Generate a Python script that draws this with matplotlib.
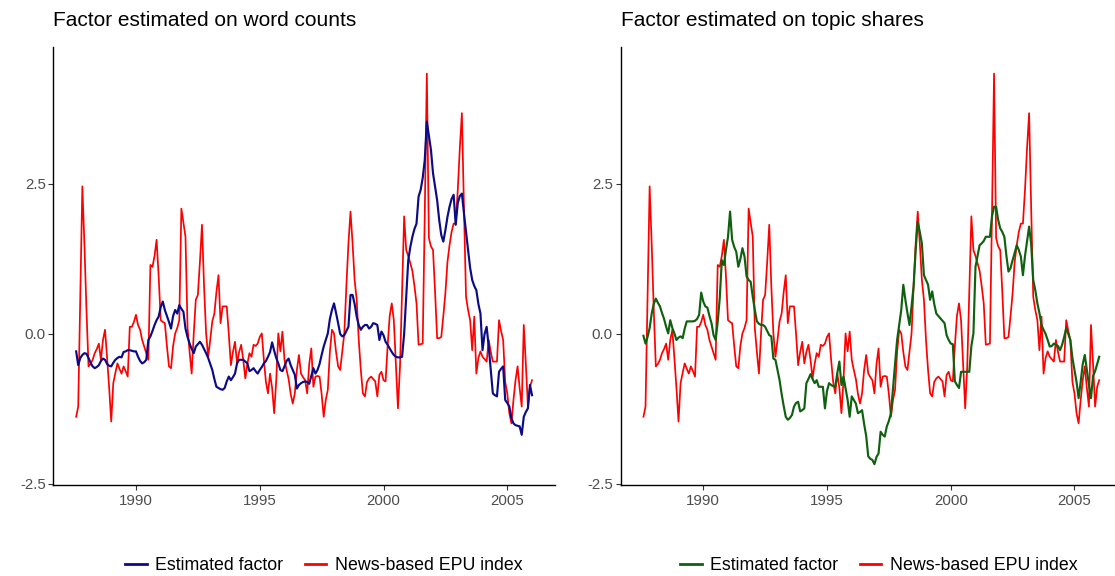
import numpy as np
import matplotlib
matplotlib.use("Agg")
import matplotlib.pyplot as plt
from matplotlib.lines import Line2D

# ---------------- data (monthly, Aug 1987 - Jan 2006) ----------------
start_year = 1987
start_month = 8

epu_index = [
    -1.38, -1.21, 0.6, 2.46, 1.5, 0.4, -0.54, -0.5, -0.43, -0.32,
    -0.25, -0.16, -0.43, -0.1, 0.07, -0.4, -0.9, -1.46, -0.82, -0.65,
    -0.49, -0.58, -0.66, -0.54, -0.62, -0.71, 0.12, 0.12, 0.2, 0.32,
    0.15, 0.07, -0.1, -0.21, -0.32, -0.43, 1.15, 1.12, 1.3, 1.57,
    0.96, 0.23, 0.2, 0.18, -0.2, -0.54, -0.57, -0.2, 0.01, 0.1,
    0.23, 2.09, 1.85, 1.62, 0.1, -0.3, -0.66, 0.0, 0.57, 0.65,
    1.2, 1.82, 0.8, 0.01, -0.38, -0.1, 0.21, 0.34, 0.7, 0.98,
    0.18, 0.46, 0.46, 0.46, 0.0, -0.52, -0.3, -0.13, -0.49, -0.3,
    -0.18, -0.43, -0.74, -0.5, -0.32, -0.38, -0.18, -0.2, -0.16, -0.05,
    0.01, -0.43, -0.8, -0.99, -0.66, -0.9, -1.32, -0.77, 0.01, -0.29,
    0.04, -0.43, -0.6, -0.75, -1.0, -1.16, -0.99, -0.6, -0.35, -0.66,
    -0.72, -0.77, -0.99, -0.5, -0.24, -0.88, -0.71, -0.7, -0.71, -1.0,
    -1.38, -1.1, -0.93, -0.3, 0.07, 0.01, -0.3, -0.54, -0.6, -0.3,
    0.01, 0.8, 1.51, 2.04, 1.51, 0.9, 0.57, -0.1, -0.6, -0.99,
    -1.04, -0.8, -0.74, -0.71, -0.75, -0.79, -1.04, -0.68, -0.63, -0.77,
    -0.79, -0.2, 0.3, 0.51, 0.23, -0.5, -1.24, -0.54, 0.7, 1.96,
    1.4, 1.3, 1.18, 1.05, 0.8, 0.51, -0.18, -0.17, -0.16, 2.0,
    4.34, 1.6, 1.46, 1.4, 0.7, -0.07, -0.07, -0.05, 0.3, 0.68,
    1.2, 1.48, 1.7, 1.84, 1.84, 2.4, 3.1, 3.68, 2.1, 0.62,
    0.4, 0.23, -0.27, 0.29, -0.66, -0.4, -0.29, -0.38, -0.42, -0.46,
    -0.1, -0.3, -0.46, -0.46, -0.46, 0.23, 0.05, -0.1, -0.8, -0.99,
    -1.32, -1.49, -1.1, -0.77, -0.54, -0.9, -1.21, 0.15, -0.5, -1.21,
    -0.88, -0.77,
]

factor_word_counts = [
    -0.29, -0.52, -0.4, -0.35, -0.32, -0.33, -0.4, -0.48, -0.54, -0.57,
    -0.55, -0.52, -0.45, -0.41, -0.43, -0.5, -0.53, -0.54, -0.48, -0.43,
    -0.4, -0.38, -0.39, -0.3, -0.29, -0.27, -0.27, -0.28, -0.29, -0.29,
    -0.38, -0.45, -0.49, -0.47, -0.43, -0.1, -0.04, 0.05, 0.15, 0.23,
    0.29, 0.45, 0.54, 0.4, 0.3, 0.2, 0.09, 0.3, 0.4, 0.34,
    0.48, 0.42, 0.37, 0.09, -0.05, -0.16, -0.25, -0.32, -0.21, -0.17,
    -0.13, -0.18, -0.25, -0.32, -0.4, -0.5, -0.6, -0.75, -0.88, -0.9,
    -0.92, -0.93, -0.9, -0.79, -0.71, -0.77, -0.72, -0.66, -0.49, -0.43,
    -0.43, -0.43, -0.46, -0.49, -0.62, -0.6, -0.57, -0.62, -0.66, -0.6,
    -0.55, -0.49, -0.45, -0.38, -0.3, -0.14, -0.28, -0.4, -0.49, -0.6,
    -0.62, -0.54, -0.45, -0.41, -0.52, -0.6, -0.68, -0.91, -0.85, -0.82,
    -0.8, -0.79, -0.8, -0.83, -0.7, -0.57, -0.66, -0.6, -0.5, -0.35,
    -0.21, -0.1, 0.01, 0.25, 0.4, 0.51, 0.35, 0.18, 0.0, -0.04,
    -0.02, 0.05, 0.12, 0.65, 0.65, 0.5, 0.29, 0.15, 0.07, 0.12,
    0.15, 0.15, 0.09, 0.12, 0.18, 0.17, 0.15, -0.1, 0.04, -0.02,
    -0.13, -0.18, -0.24, -0.3, -0.35, -0.38, -0.39, -0.39, -0.38, 0.0,
    0.6, 1.23, 1.45, 1.62, 1.75, 1.84, 2.29, 2.4, 2.6, 2.9,
    3.54, 3.3, 3.07, 2.68, 2.45, 2.23, 1.9, 1.65, 1.54, 1.73,
    1.95, 2.12, 2.25, 2.32, 1.82, 2.18, 2.3, 2.34, 2.01, 1.7,
    1.4, 1.1, 0.9, 0.8, 0.73, 0.5, 0.34, -0.27, 0.0, 0.12,
    -0.21, -0.6, -0.99, -1.02, -1.04, -0.63, -0.58, -0.54, -1.1, -1.15,
    -1.21, -1.4, -1.49, -1.52, -1.53, -1.54, -1.68, -1.38, -1.3, -1.24,
    -0.85, -1.02,
]

factor_topic_shares = [
    -0.03, -0.16, -0.05, 0.1, 0.34, 0.5, 0.59, 0.52, 0.46, 0.35,
    0.25, 0.12, 0.01, 0.23, 0.1, 0.01, -0.1, -0.06, -0.04, -0.07,
    0.09, 0.21, 0.21, 0.21, 0.21, 0.22, 0.25, 0.32, 0.69, 0.54,
    0.46, 0.44, 0.3, 0.18, -0.02, -0.1, 0.2, 0.6, 1.23, 1.15,
    1.4, 1.62, 2.04, 1.57, 1.45, 1.37, 1.12, 1.25, 1.43, 1.29,
    0.96, 0.9, 0.87, 0.62, 0.4, 0.21, 0.17, 0.15, 0.15, 0.12,
    0.05, -0.02, -0.04, -0.41, -0.43, -0.6, -0.77, -1.0, -1.2, -1.38,
    -1.43, -1.4, -1.35, -1.21, -1.15, -1.13, -1.29, -1.27, -1.24, -0.82,
    -0.75, -0.67, -0.75, -0.82, -0.77, -0.88, -0.88, -0.88, -1.24, -0.95,
    -0.82, -0.85, -0.87, -0.88, -0.65, -0.46, -0.85, -0.71, -0.9, -1.1,
    -1.38, -1.04, -1.1, -1.16, -1.32, -1.3, -1.27, -1.5, -1.7, -2.04,
    -2.08, -2.1, -2.17, -2.05, -1.99, -1.63, -1.68, -1.71, -1.54, -1.45,
    -1.32, -0.9, -0.5, -0.1, 0.15, 0.4, 0.82, 0.57, 0.35, 0.15,
    0.46, 0.8, 1.4, 1.87, 1.7, 1.51, 0.98, 0.9, 0.82, 0.57,
    0.71, 0.5, 0.34, 0.3, 0.26, 0.22, 0.18, -0.02, -0.1, -0.16,
    -0.17, -0.79, -0.85, -0.9, -0.63, -0.63, -0.63, -0.63, -0.63, -0.2,
    0.01, 1.12, 1.3, 1.48, 1.51, 1.55, 1.62, 1.62, 1.62, 1.96,
    2.12, 2.12, 1.9, 1.76, 1.7, 1.62, 1.3, 1.04, 1.1, 1.23,
    1.35, 1.48, 1.4, 1.29, 0.98, 1.3, 1.54, 1.79, 1.5, 0.9,
    0.73, 0.51, 0.35, 0.15, 0.07, 0.0, -0.1, -0.21, -0.2, -0.16,
    -0.18, -0.2, -0.27, -0.18, -0.05, 0.1, 0.0, -0.1, -0.4, -0.6,
    -0.8, -1.07, -0.8, -0.5, -0.35, -0.6, -0.85, -1.07, -0.7, -0.62,
    -0.5, -0.38,
]

panel_titles = ["Factor estimated on word counts", "Factor estimated on topic shares"]
legend_labels = ["Estimated factor", "News-based EPU index"]
x_ticks = [1990, 1995, 2000, 2005]
y_ticks = [-2.5, 0.0, 2.5]
y_tick_labels = ["-2.5", "0.0", "2.5"]

n = len(epu_index)
assert n == len(factor_word_counts) == len(factor_topic_shares)
t = start_year + (start_month - 1) / 12 + np.arange(n) / 12.0

# ---------------- styling ----------------
plt.rcParams['font.family'] = ['Liberation Sans', 'DejaVu Sans']
W, H = 1115, 576
fig = plt.figure(figsize=(W / 100, H / 100), dpi=100)

def fx(px):
    return px / W

def fy(py):
    return 1 - py / H

ax_top, ax_bot = 47, 485
panels = [
    (53.3, 554.8, factor_word_counts, "#0b0b85", panel_titles[0], 324),
    (620.6, 1122.0, factor_topic_shares, "#0f600f", panel_titles[1], 879),
]

for (x0, x1, fac, col, title, leg_cx) in panels:
    ax = fig.add_axes([fx(x0), fy(ax_bot), fx(x1 - x0), (ax_bot - ax_top) / H])
    ax.plot(t, epu_index, color="#ff0000", lw=1.25, solid_joinstyle='round', zorder=2)
    ax.plot(t, fac, color=col, lw=1.55, solid_joinstyle='round', zorder=3)
    ax.set_xlim(1986.66, 2006.92)
    ax.set_ylim(-2.517, 4.783)
    ax.set_xticks(x_ticks)
    ax.set_xticklabels([str(v) for v in x_ticks])
    ax.set_yticks(y_ticks)
    ax.set_yticklabels(y_tick_labels)
    for s in ["top", "right"]:
        ax.spines[s].set_visible(False)
    for s in ["left", "bottom"]:
        ax.spines[s].set_linewidth(1.0)
        ax.spines[s].set_color("black")
    ax.tick_params(axis='both', length=3.5, width=0.8, color="#333333",
                   labelsize=10.8, labelcolor="#4d4d4d")
    ax.tick_params(axis='x', pad=3)
    ax.tick_params(axis='y', pad=2)
    ax.set_facecolor("white")
    fig.text(fx(x0), fy(20), title, fontsize=15, color="black",
             ha='left', va='center')
    handles = [Line2D([], [], color=col, lw=2.0), Line2D([], [], color="#ff0000", lw=2.0)]
    fig.legend(handles, legend_labels, loc='center', ncol=2,
               bbox_to_anchor=(fx(leg_cx), fy(566)), frameon=False,
               fontsize=12.8, handlelength=1.2, handletextpad=0.5,
               columnspacing=1.2, borderpad=0.2)

fig.savefig("out.png", dpi=100, facecolor="white")
